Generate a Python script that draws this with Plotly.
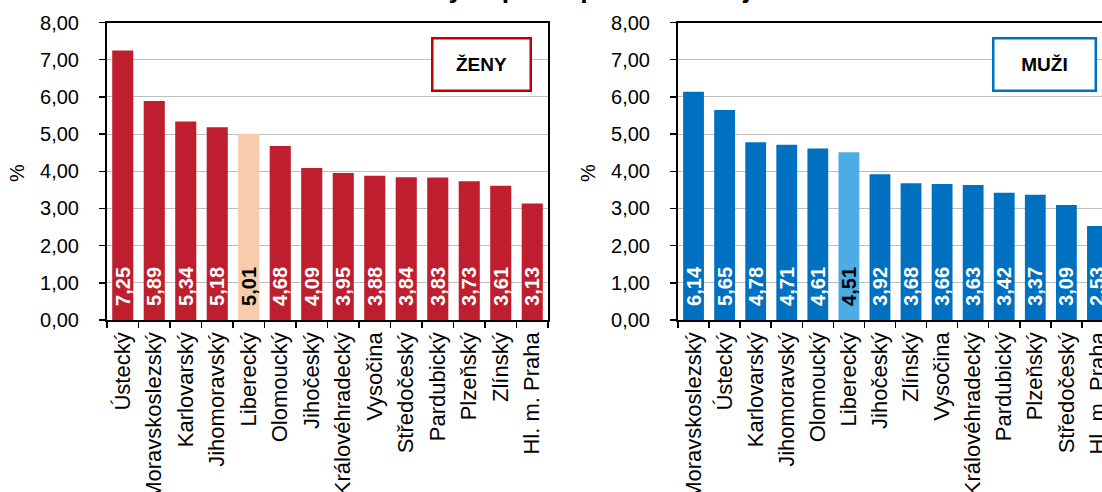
import plotly.graph_objects as go

# ---------------- data ----------------
women_regions = ["Ústecký", "Moravskoslezský", "Karlovarský", "Jihomoravský", "Liberecký",
                 "Olomoucký", "Jihočeský", "Královéhradecký", "Vysočina", "Středočeský",
                 "Pardubický", "Plzeňský", "Zlínský", "Hl. m. Praha"]
women_values = [7.25, 5.89, 5.34, 5.18, 5.01, 4.68, 4.09, 3.95, 3.88, 3.84, 3.83, 3.73, 3.61, 3.13]

men_regions = ["Moravskoslezský", "Ústecký", "Karlovarský", "Jihomoravský", "Olomoucký",
               "Liberecký", "Jihočeský", "Zlínský", "Vysočina", "Královéhradecký",
               "Pardubický", "Plzeňský", "Středočeský", "Hl. m. Praha"]
men_values = [6.14, 5.65, 4.78, 4.71, 4.61, 4.51, 3.92, 3.68, 3.66, 3.63, 3.42, 3.37, 3.09, 2.53]

highlight = "Liberecký"
title_text = "Podíl nezaměstnaných podle pohlaví a krajů"
panel_labels = ["ŽENY", "MUŽI"]
y_ticks = [0, 1, 2, 3, 4, 5, 6, 7, 8]

W, H = 1102, 492
OFF = 0  # body margin removed below, figure sits at the page origin
FONT = "Liberation Sans, Arial, sans-serif"

RED, PEACH = "#BE1E2D", "#F8CBAD"
BLUE, LBLUE = "#0070C0", "#4BACE6"


def fmt(v):
    return "\u00a0\u00a0" + f"{v:.2f}".replace(".", ",")


def px_x(p):
    # screen pixel -> paper fraction
    return (p - OFF) / W


def px_y(p):
    return (H - (p - OFF)) / H


fig = go.Figure()

for regions, values, base, hi, xa, ya in [
    (women_regions, women_values, RED, PEACH, "x", "y"),
    (men_regions, men_values, BLUE, LBLUE, "x2", "y2"),
]:
    colors = [hi if r == highlight else base for r in regions]
    tcolors = ["black" if r == highlight else "white" for r in regions]
    fig.add_trace(go.Bar(
        x=regions, y=values, xaxis=xa, yaxis=ya,
        marker=dict(color=colors, line=dict(width=0)),
        text=[fmt(v) for v in values],
        textposition="inside", insidetextanchor="start", textangle=-90,
        textfont=dict(family=FONT, size=20, color=tcolors, weight="bold"),
        constraintext="none", cliponaxis=True,
        showlegend=False, hoverinfo="skip",
    ))

ydom = [px_y(320), px_y(22.5)]
yaxis_common = dict(
    range=[0, 8], tickvals=y_ticks, tickformat=".2f",
    showgrid=True, gridcolor="#BFBFBF", gridwidth=1,
    zeroline=False, showline=True, linecolor="black", linewidth=2,
    ticks="outside", ticklen=6, tickwidth=1.5, tickcolor="black",
    ticklabelstandoff=16, domain=ydom, fixedrange=True,
    tickfont=dict(family=FONT, size=20, color="black"), automargin=False,
)
xaxis_common = dict(
    type="category", tickangle=-90, showgrid=False, zeroline=False,
    showline=True, linecolor="black", linewidth=1.5, mirror=True,
    ticks="outside", ticklen=6, tickwidth=1.5, tickcolor="black",
    tickson="boundaries", ticklabelstandoff=2, fixedrange=True,
    tickfont=dict(family=FONT, size=22, color="black"), automargin=False,
)

# right panel: axis at screen x=678, 31.07 px per category, continues past the edge
R_LEFT, R_STEP = 678, 31.07
r_end = -0.5 + (W + OFF - R_LEFT) / R_STEP

fig.update_layout(
    width=W, height=H,
    margin=dict(l=0, r=0, t=0, b=0, pad=0, autoexpand=False),
    paper_bgcolor="white", plot_bgcolor="white",
    separators=", ",
    bargap=0.33,
    hovermode=False,
    font=dict(family=FONT, color="black"),
    xaxis=dict(domain=[px_x(107), px_x(548)], range=[-0.5, 13.5], anchor="y", **xaxis_common),
    yaxis=dict(anchor="x", mirror=True, **yaxis_common),
    xaxis2=dict(domain=[px_x(R_LEFT), 1.0], range=[-0.5, r_end], anchor="y2", **xaxis_common),
    yaxis2=dict(anchor="x2", mirror=False, **yaxis_common),
)

annotations = [
    # chart title, clipped at the top edge (only descenders visible)
    dict(text=title_text, xref="paper", yref="paper", x=px_x(769), y=px_y(6.5),
         xanchor="right", yanchor="bottom", showarrow=False,
         font=dict(family=FONT, size=26.67, color="black", weight="bold")),
    # % axis titles
    dict(text="%", xref="paper", yref="paper", x=px_x(17), y=px_y(173),
         xanchor="center", yanchor="middle", textangle=-90, showarrow=False,
         font=dict(family=FONT, size=20, color="black")),
    dict(text="%", xref="paper", yref="paper", x=px_x(588), y=px_y(173),
         xanchor="center", yanchor="middle", textangle=-90, showarrow=False,
         font=dict(family=FONT, size=20, color="black")),
    # panel label boxes
    dict(text="<b>" + panel_labels[0] + "</b>", xref="paper", yref="paper",
         x=px_x(481.5), y=px_y(65), xanchor="center", yanchor="middle",
         width=96, height=50, borderpad=0, borderwidth=2.5, bordercolor="#C00000",
         bgcolor="white", showarrow=False,
         font=dict(family=FONT, size=19, color="black")),
    dict(text="<b>" + panel_labels[1] + "</b>", xref="paper", yref="paper",
         x=px_x(1044.5), y=px_y(64.5), xanchor="center", yanchor="middle",
         width=100, height=50, borderpad=0, borderwidth=2.5, bordercolor=BLUE,
         bgcolor="white", showarrow=False,
         font=dict(family=FONT, size=19, color="black")),
]
fig.update_layout(annotations=annotations)

fig.write_html(
    "out.html",
    config={"displayModeBar": False, "staticPlot": True},
    post_script="document.body.style.margin='0px';document.body.style.overflow='hidden';",
)
